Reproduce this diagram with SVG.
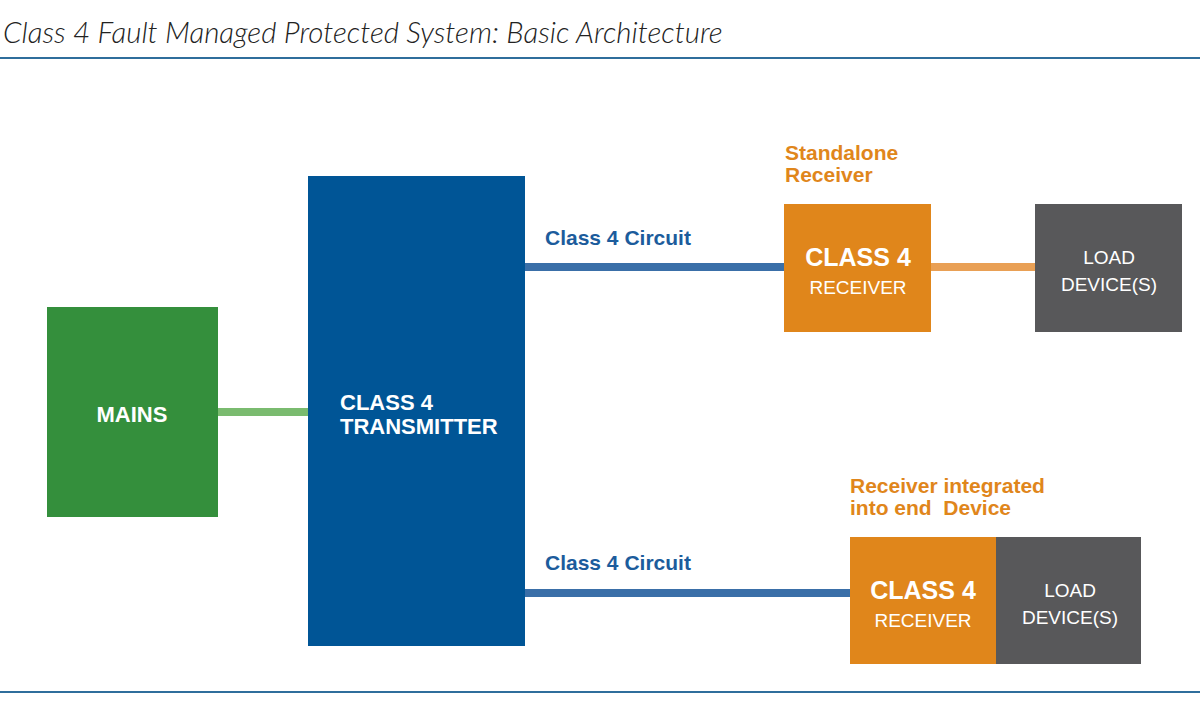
<svg xmlns="http://www.w3.org/2000/svg" width="1200" height="714" viewBox="0 0 1200 714">
<style>
.title{font-family:Lato,"Open Sans",sans-serif;font-style:italic;font-weight:300;font-size:29.5px;fill:#222}
.w{font-family:"Liberation Sans",Arial,sans-serif;fill:#fff}
.b{font-weight:bold}
.lbl{font-family:"Liberation Sans",Arial,sans-serif;font-weight:bold;font-size:21px}
.blue{fill:#1c5c9c}
.or{fill:#e0861b}
.rule{stroke:#2f6e9c;stroke-width:2}
</style>
<rect width="1200" height="714" fill="#fff"/>
<text class="title" x="3" y="43">Class 4 Fault Managed Protected System: Basic Architecture</text>
<line class="rule" x1="0" y1="58" x2="1200" y2="58"/>
<line class="rule" x1="0" y1="692" x2="1200" y2="692"/>
<g id="connectors">
<line x1="218" y1="412" x2="308" y2="412" stroke="#7abb6f" stroke-width="8"/>
<line x1="525" y1="267" x2="785" y2="267" stroke="#3a6fa8" stroke-width="8"/>
<line x1="931" y1="267" x2="1035" y2="267" stroke="#e9a055" stroke-width="8"/>
<line x1="525" y1="593" x2="850" y2="593" stroke="#3a6fa8" stroke-width="8"/>
</g>
<g id="labels">
<text class="lbl blue" x="545" y="245" font-size="21.5">Class 4 Circuit</text>
<text class="lbl blue" x="545" y="570" font-size="21.5">Class 4 Circuit</text>
<text class="lbl or" x="785" y="160">Standalone</text>
<text class="lbl or" x="785" y="182">Receiver</text>
<text class="lbl or" x="850" y="493">Receiver integrated</text>
<text class="lbl or" x="850" y="515" xml:space="preserve">into end  Device</text>
</g>
<g id="mains">
<rect x="47" y="307" width="171" height="210" fill="#348f3c"/>
<text class="w b" x="132" y="422" font-size="22" text-anchor="middle">MAINS</text>
</g>
<g id="transmitter">
<rect x="308" y="176" width="217" height="470" fill="#005596"/>
<text class="w b" x="340" y="410" font-size="22">CLASS 4</text>
<text class="w b" x="340" y="434" font-size="22">TRANSMITTER</text>
</g>
<g id="receiver1">
<rect x="784" y="204" width="147" height="128" fill="#e0861b"/>
<text class="w b" x="858" y="266" font-size="25" text-anchor="middle">CLASS 4</text>
<text class="w" x="858" y="294" font-size="19" text-anchor="middle">RECEIVER</text>
</g>
<g id="load1">
<rect x="1035" y="204" width="147" height="128" fill="#58585a"/>
<text class="w" x="1109" y="264" font-size="19" text-anchor="middle">LOAD</text>
<text class="w" x="1109" y="291" font-size="19" text-anchor="middle">DEVICE(S)</text>
</g>
<g id="receiver2">
<rect x="850" y="537" width="146" height="127" fill="#e0861b"/>
<text class="w b" x="923" y="599" font-size="25" text-anchor="middle">CLASS 4</text>
<text class="w" x="923" y="627" font-size="19" text-anchor="middle">RECEIVER</text>
</g>
<g id="load2">
<rect x="996" y="537" width="145" height="127" fill="#58585a"/>
<text class="w" x="1070" y="597" font-size="19" text-anchor="middle">LOAD</text>
<text class="w" x="1070" y="624" font-size="19" text-anchor="middle">DEVICE(S)</text>
</g>
</svg>
